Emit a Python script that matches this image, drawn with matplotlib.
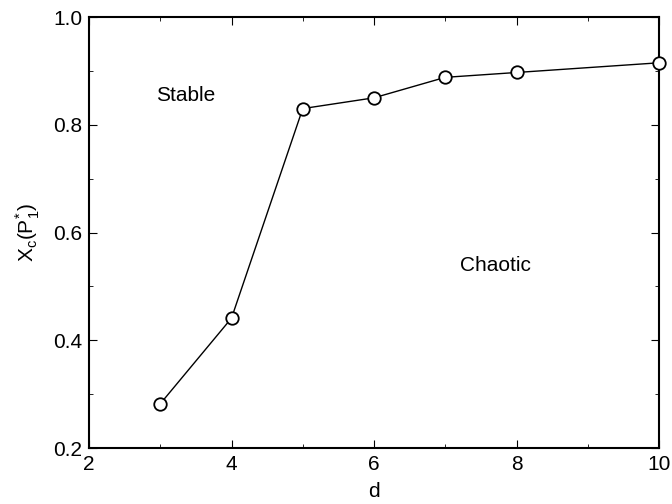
import matplotlib
matplotlib.use('Agg')
import matplotlib.pyplot as plt
from matplotlib.ticker import MultipleLocator

plt.rcParams['font.family'] = ['Liberation Sans', 'DejaVu Sans']

# data
d_values = [3, 4, 5, 6, 7, 8, 10]
xc_values = [0.282, 0.441, 0.830, 0.850, 0.888, 0.897, 0.915]

fig = plt.figure(figsize=(6.72, 5.04), dpi=100)
ax = fig.add_axes([89 / 672, 56 / 504, 570 / 672, 431 / 504])

ax.plot(d_values, xc_values, color='black', linewidth=1.0, marker='o',
        markersize=9, markerfacecolor='white', markeredgecolor='black',
        markeredgewidth=1.3, clip_on=False, zorder=3)

ax.set_xlim(2, 10)
ax.set_ylim(0.2, 1.0)
ax.xaxis.set_minor_locator(MultipleLocator(1))
ax.yaxis.set_minor_locator(MultipleLocator(0.1))
ax.set_xticks([2, 4, 6, 8, 10])
ax.set_xticklabels(['2', '4', '6', '8', '10'])
ax.set_yticks([0.2, 0.4, 0.6, 0.8, 1.0])
ax.set_yticklabels(['0.2', '0.4', '0.6', '0.8', '1.0'])
ax.tick_params(which='both', direction='in', labelsize=15, top=True, right=True)
ax.tick_params(which='major', length=6, pad=5)
ax.tick_params(which='minor', length=3)
for sp in ax.spines.values():
    sp.set_linewidth(1.5)

ax.set_xlabel('d', fontsize=15, labelpad=6)
ax.set_ylabel(r'X$_\mathregular{c}$(P$_\mathregular{1}^\mathregular{*}$)', fontsize=15, labelpad=8)

ax.text(3.35, 0.855, 'Stable', fontsize=15, ha='center', va='center')
ax.text(7.7, 0.539, 'Chaotic', fontsize=15, ha='center', va='center')

fig.savefig('out.png', dpi=100)
